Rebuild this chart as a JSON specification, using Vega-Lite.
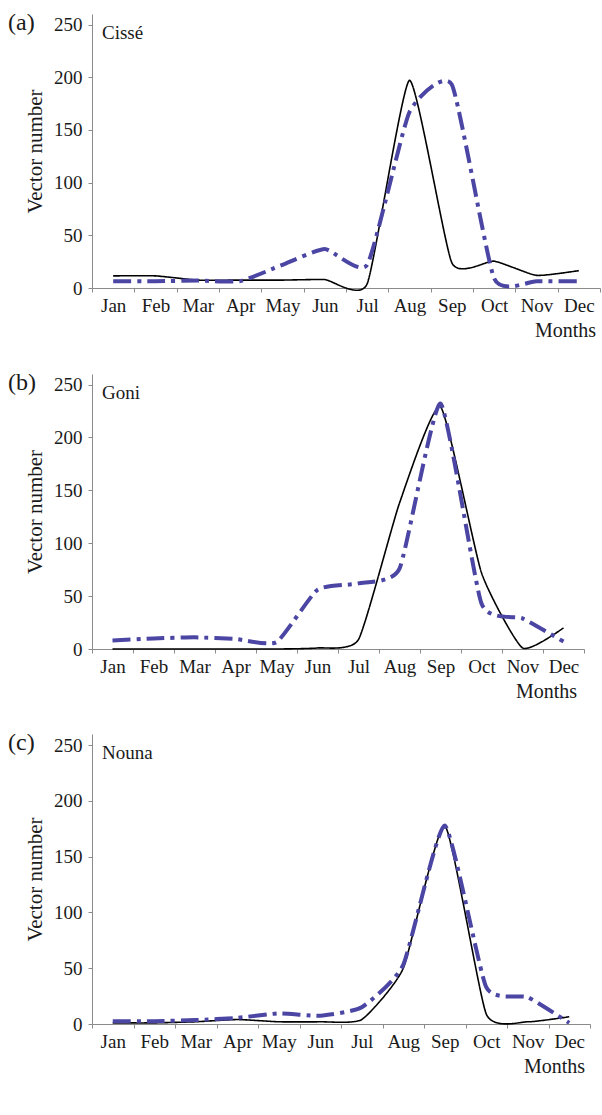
{
  "$schema": "https://vega.github.io/schema/vega-lite/v6.json",
  "background": "white",
  "padding": {"left": 8, "top": 10, "right": 0, "bottom": 0},
  "spacing": 29,
  "config": {
    "font": "Liberation Serif",
    "view": {"stroke": null},
    "axis": {"grid": false, "domainColor": "#8a8a8a", "tickColor": "#8a8a8a", "labelColor": "#1a1a1a", "titleColor": "#1a1a1a", "labelFontSize": 19, "titleFontWeight": "normal", "tickSize": 4, "labelFont": "Liberation Serif", "titleFont": "Liberation Serif"},
    "axisX": {"tickBand": "extent", "labelAngle": 0, "labelPadding": 4, "labelOverlap": false, "title": null},
    "axisY": {"values": [0, 50, 100, 150, 200, 250], "labelPadding": 6, "titleFontSize": 21, "titlePadding": 8},
    "text": {"font": "Liberation Serif", "fontSize": 19, "color": "#1a1a1a"}
  },
  "vconcat": [
    {
      "width": 508, "height": 274,
      "layer": [
        {
          "data": {"values": [
            {"month": "Jan", "series": "Series 1", "value": 11.5},
            {"month": "Feb", "series": "Series 1", "value": 11.5},
            {"month": "Mar", "series": "Series 1", "value": 7.5},
            {"month": "Apr", "series": "Series 1", "value": 7.5},
            {"month": "May", "series": "Series 1", "value": 7.5},
            {"month": "Jun", "series": "Series 1", "value": 8},
            {"month": "Jul", "series": "Series 1", "value": 4},
            {"month": "Aug", "series": "Series 1", "value": 197},
            {"month": "Sep", "series": "Series 1", "value": 24},
            {"month": "Oct", "series": "Series 1", "value": 25.5},
            {"month": "Nov", "series": "Series 1", "value": 12},
            {"month": "Dec", "series": "Series 1", "value": 16.5},
            {"month": "Jan", "series": "Series 2", "value": 6.5},
            {"month": "Feb", "series": "Series 2", "value": 6.5},
            {"month": "Mar", "series": "Series 2", "value": 7},
            {"month": "Apr", "series": "Series 2", "value": 6.5},
            {"month": "May", "series": "Series 2", "value": 22},
            {"month": "Jun", "series": "Series 2", "value": 37},
            {"month": "Jul", "series": "Series 2", "value": 22},
            {"month": "Aug", "series": "Series 2", "value": 167},
            {"month": "Sep", "series": "Series 2", "value": 193},
            {"month": "Oct", "series": "Series 2", "value": 9},
            {"month": "Nov", "series": "Series 2", "value": 6.5},
            {"month": "Dec", "series": "Series 2", "value": 6.5}
          ]},
          "mark": {"type": "line", "interpolate": "cardinal", "tension": 0.5, "strokeCap": "butt"},
          "encoding": {
            "x": {"field": "month", "type": "ordinal", "bandPosition": 0.5, "scale": {"type": "band", "domain": ["Jan","Feb","Mar","Apr","May","Jun","Jul","Aug","Sep","Oct","Nov","Dec"], "paddingInner": 0, "paddingOuter": 0}},
            "y": {"field": "value", "type": "quantitative", "scale": {"domain": [0, 250]}, "axis": {"title": "Vector number"}},
            "color": {"field": "series", "type": "nominal", "scale": {"domain": ["Series 1", "Series 2"], "range": ["#000000", "#4B45A3"]}, "legend": null},
            "strokeDash": {"field": "series", "type": "nominal", "scale": {"domain": ["Series 1", "Series 2"], "range": [[1, 0], [18, 6, 4, 6]]}, "legend": null},
            "strokeWidth": {"field": "series", "type": "ordinal", "scale": {"domain": ["Series 1", "Series 2"], "range": [1.6, 4]}, "legend": null}
          }
        },
        {
          "data": {"values": [{"station": "Cissé", "panel": "(a)"}]},
          "layer": [
            {
              "mark": {"type": "text", "align": "left", "baseline": "top", "dx": 10, "dy": -1},
              "encoding": {"x": {"datum": "Jan", "type": "ordinal", "bandPosition": 0}, "y": {"datum": 250, "type": "quantitative"}, "text": {"field": "station"}}
            },
            {
              "mark": {"type": "text", "align": "left", "baseline": "alphabetic", "dx": -84, "dy": 5, "fontSize": 24},
              "encoding": {"x": {"datum": "Jan", "type": "ordinal", "bandPosition": 0}, "y": {"datum": 250, "type": "quantitative"}, "text": {"field": "panel"}}
            }
          ]
        },
        {
          "data": {"values": [{"axis": "Months"}]},
          "mark": {"type": "text", "align": "right", "baseline": "top", "dx": -4, "dy": 33, "fontSize": 20},
          "encoding": {"x": {"datum": "Dec", "type": "ordinal", "bandPosition": 1}, "y": {"datum": 0, "type": "quantitative"}, "text": {"field": "axis"}}
        }
      ]
    },
    {
      "width": 492, "height": 275,
      "layer": [
        {
          "data": {"values": [
            {"month": "Jan", "series": "Series 1", "value": 0},
            {"month": "Feb", "series": "Series 1", "value": 0},
            {"month": "Mar", "series": "Series 1", "value": 0},
            {"month": "Apr", "series": "Series 1", "value": 0},
            {"month": "May", "series": "Series 1", "value": 0},
            {"month": "Jun", "series": "Series 1", "value": 1},
            {"month": "Jul", "series": "Series 1", "value": 9},
            {"month": "Aug", "series": "Series 1", "value": 138},
            {"month": "Sep", "series": "Series 1", "value": 229},
            {"month": "Oct", "series": "Series 1", "value": 72},
            {"month": "Nov", "series": "Series 1", "value": 1},
            {"month": "Dec", "series": "Series 1", "value": 20},
            {"month": "Jan", "series": "Series 2", "value": 8},
            {"month": "Feb", "series": "Series 2", "value": 10},
            {"month": "Mar", "series": "Series 2", "value": 11},
            {"month": "Apr", "series": "Series 2", "value": 9.5},
            {"month": "May", "series": "Series 2", "value": 6.5},
            {"month": "Jun", "series": "Series 2", "value": 56},
            {"month": "Jul", "series": "Series 2", "value": 62},
            {"month": "Aug", "series": "Series 2", "value": 76},
            {"month": "Sep", "series": "Series 2", "value": 232},
            {"month": "Oct", "series": "Series 2", "value": 43},
            {"month": "Nov", "series": "Series 2", "value": 29},
            {"month": "Dec", "series": "Series 2", "value": 7}
          ]},
          "mark": {"type": "line", "interpolate": "cardinal", "tension": 0.5, "strokeCap": "butt"},
          "encoding": {
            "x": {"field": "month", "type": "ordinal", "bandPosition": 0.5, "scale": {"type": "band", "domain": ["Jan","Feb","Mar","Apr","May","Jun","Jul","Aug","Sep","Oct","Nov","Dec"], "paddingInner": 0, "paddingOuter": 0}},
            "y": {"field": "value", "type": "quantitative", "scale": {"domain": [0, 250]}, "axis": {"title": "Vector number"}},
            "color": {"field": "series", "type": "nominal", "scale": {"domain": ["Series 1", "Series 2"], "range": ["#000000", "#4B45A3"]}, "legend": null},
            "strokeDash": {"field": "series", "type": "nominal", "scale": {"domain": ["Series 1", "Series 2"], "range": [[1, 0], [18, 6, 4, 6]]}, "legend": null},
            "strokeWidth": {"field": "series", "type": "ordinal", "scale": {"domain": ["Series 1", "Series 2"], "range": [1.6, 4]}, "legend": null}
          }
        },
        {
          "data": {"values": [{"station": "Goni", "panel": "(b)"}]},
          "layer": [
            {
              "mark": {"type": "text", "align": "left", "baseline": "top", "dx": 10, "dy": -1},
              "encoding": {"x": {"datum": "Jan", "type": "ordinal", "bandPosition": 0}, "y": {"datum": 250, "type": "quantitative"}, "text": {"field": "station"}}
            },
            {
              "mark": {"type": "text", "align": "left", "baseline": "alphabetic", "dx": -84, "dy": 5, "fontSize": 24},
              "encoding": {"x": {"datum": "Jan", "type": "ordinal", "bandPosition": 0}, "y": {"datum": 250, "type": "quantitative"}, "text": {"field": "panel"}}
            }
          ]
        },
        {
          "data": {"values": [{"axis": "Months"}]},
          "mark": {"type": "text", "align": "right", "baseline": "top", "dx": -7, "dy": 33, "fontSize": 20},
          "encoding": {"x": {"datum": "Dec", "type": "ordinal", "bandPosition": 1}, "y": {"datum": 0, "type": "quantitative"}, "text": {"field": "axis"}}
        }
      ]
    },
    {
      "width": 498, "height": 290,
      "layer": [
        {
          "data": {"values": [
            {"month": "Jan", "series": "Series 1", "value": 1},
            {"month": "Feb", "series": "Series 1", "value": 1},
            {"month": "Mar", "series": "Series 1", "value": 2},
            {"month": "Apr", "series": "Series 1", "value": 4},
            {"month": "May", "series": "Series 1", "value": 2},
            {"month": "Jun", "series": "Series 1", "value": 2},
            {"month": "Jul", "series": "Series 1", "value": 4},
            {"month": "Aug", "series": "Series 1", "value": 50},
            {"month": "Sep", "series": "Series 1", "value": 178},
            {"month": "Oct", "series": "Series 1", "value": 9},
            {"month": "Nov", "series": "Series 1", "value": 2},
            {"month": "Dec", "series": "Series 1", "value": 6.5},
            {"month": "Jan", "series": "Series 2", "value": 2.5},
            {"month": "Feb", "series": "Series 2", "value": 2.5},
            {"month": "Mar", "series": "Series 2", "value": 3.5},
            {"month": "Apr", "series": "Series 2", "value": 5.5},
            {"month": "May", "series": "Series 2", "value": 9.5},
            {"month": "Jun", "series": "Series 2", "value": 7.5},
            {"month": "Jul", "series": "Series 2", "value": 15},
            {"month": "Aug", "series": "Series 2", "value": 53},
            {"month": "Sep", "series": "Series 2", "value": 178},
            {"month": "Oct", "series": "Series 2", "value": 33},
            {"month": "Nov", "series": "Series 2", "value": 24},
            {"month": "Dec", "series": "Series 2", "value": 1}
          ]},
          "mark": {"type": "line", "interpolate": "cardinal", "tension": 0.5, "strokeCap": "butt"},
          "encoding": {
            "x": {"field": "month", "type": "ordinal", "bandPosition": 0.5, "scale": {"type": "band", "domain": ["Jan","Feb","Mar","Apr","May","Jun","Jul","Aug","Sep","Oct","Nov","Dec"], "paddingInner": 0, "paddingOuter": 0}},
            "y": {"field": "value", "type": "quantitative", "scale": {"domain": [0, 250]}, "axis": {"title": "Vector number"}},
            "color": {"field": "series", "type": "nominal", "scale": {"domain": ["Series 1", "Series 2"], "range": ["#000000", "#4B45A3"]}, "legend": null},
            "strokeDash": {"field": "series", "type": "nominal", "scale": {"domain": ["Series 1", "Series 2"], "range": [[1, 0], [18, 6, 4, 6]]}, "legend": null},
            "strokeWidth": {"field": "series", "type": "ordinal", "scale": {"domain": ["Series 1", "Series 2"], "range": [1.6, 4]}, "legend": null}
          }
        },
        {
          "data": {"values": [{"station": "Nouna", "panel": "(c)"}]},
          "layer": [
            {
              "mark": {"type": "text", "align": "left", "baseline": "top", "dx": 10, "dy": -1},
              "encoding": {"x": {"datum": "Jan", "type": "ordinal", "bandPosition": 0}, "y": {"datum": 250, "type": "quantitative"}, "text": {"field": "station"}}
            },
            {
              "mark": {"type": "text", "align": "left", "baseline": "alphabetic", "dx": -84, "dy": 5, "fontSize": 24},
              "encoding": {"x": {"datum": "Jan", "type": "ordinal", "bandPosition": 0}, "y": {"datum": 250, "type": "quantitative"}, "text": {"field": "panel"}}
            }
          ]
        },
        {
          "data": {"values": [{"axis": "Months"}]},
          "mark": {"type": "text", "align": "right", "baseline": "top", "dx": -5, "dy": 33, "fontSize": 20},
          "encoding": {"x": {"datum": "Dec", "type": "ordinal", "bandPosition": 1}, "y": {"datum": 0, "type": "quantitative"}, "text": {"field": "axis"}}
        }
      ]
    }
  ]
}
